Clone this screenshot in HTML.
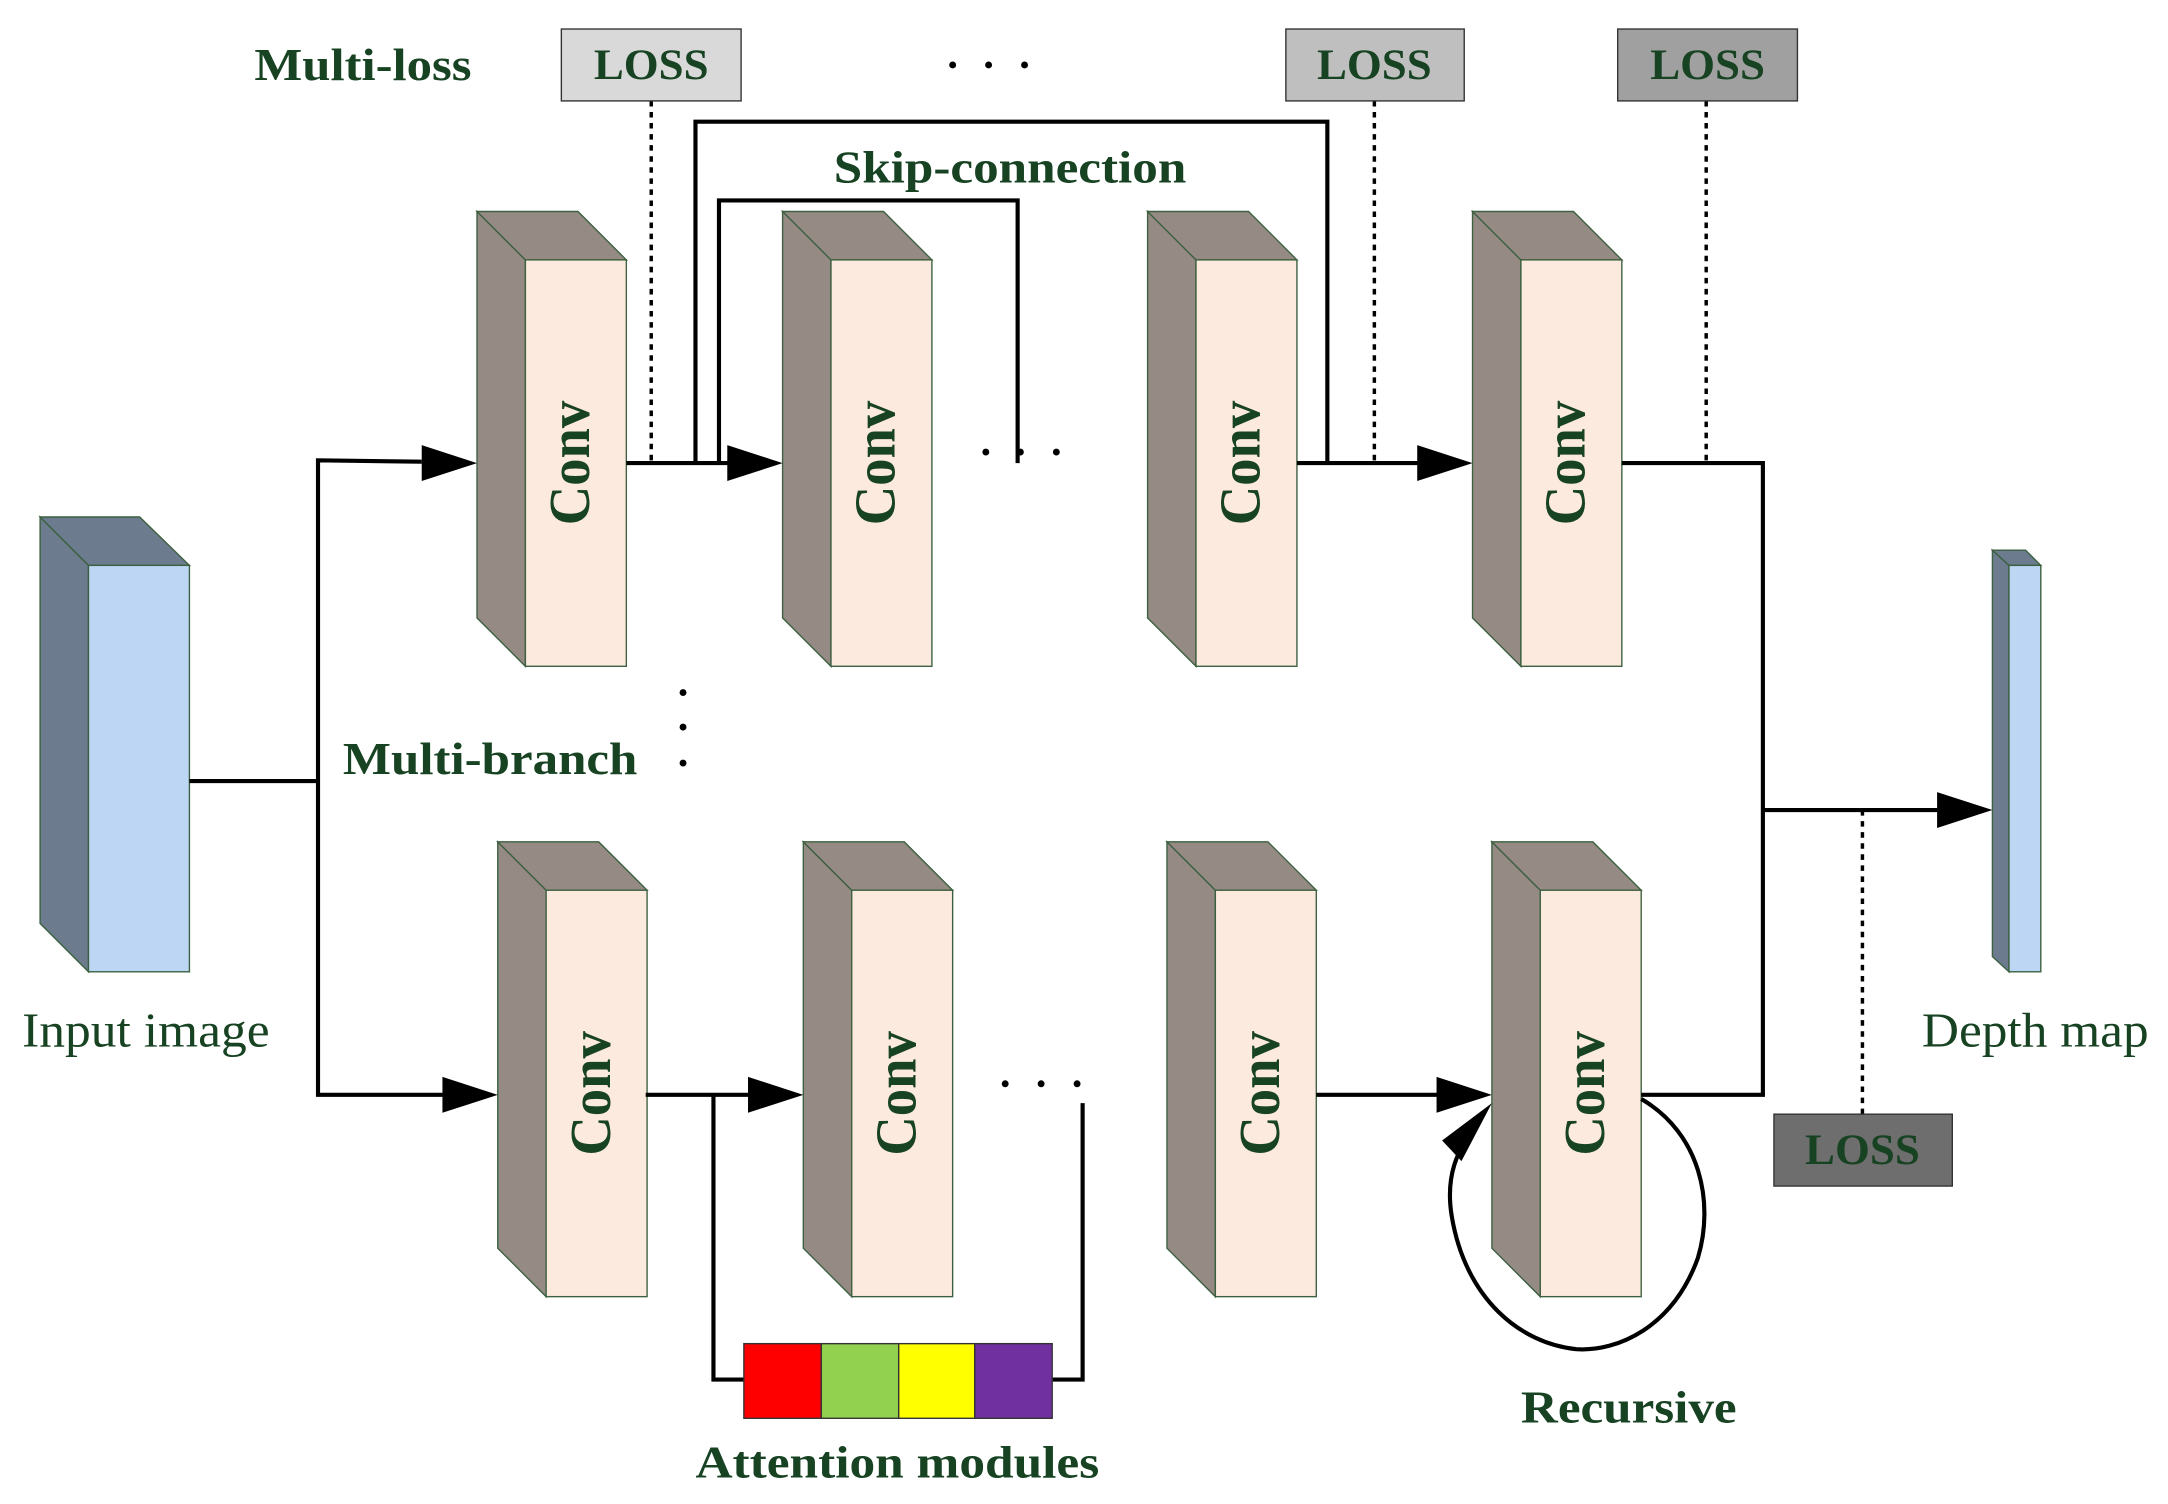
<!DOCTYPE html>
<html><head><meta charset="utf-8"><style>
html,body{margin:0;padding:0;background:#fff;}
svg{display:block;}
text{font-family:"Liberation Serif",serif;fill:#174323;}
</style></head><body>
<svg width="2168" height="1504" viewBox="0 0 1568 1088" preserveAspectRatio="none" xmlns="http://www.w3.org/2000/svg">
<defs>
<g id="blk">
<polygon points="0,0 35,35 35,329 0,294" fill="#958b84" stroke="#3d6040" stroke-width="1"/>
<polygon points="0,0 73,0 108,35 35,35" fill="#958b84" stroke="#3d6040" stroke-width="1"/>
<rect x="35" y="35" width="73" height="294" fill="#fdeade" stroke="#3d6040" stroke-width="1"/>
<text transform="translate(81,182) rotate(-90)" text-anchor="middle" font-size="42" font-weight="bold" textLength="90" lengthAdjust="spacingAndGlyphs">Conv</text>
</g>
</defs>
<polygon points="29,374 64,409 64,703 29,668" fill="#6c7b8e" stroke="#3d6040"/>
<polygon points="29,374 101,374 137,409 64,409" fill="#6c7b8e" stroke="#3d6040"/>
<rect x="64" y="409" width="73" height="294" fill="#bcd6f3" stroke="#3d6040"/>
<polygon points="1441,398 1453,409 1453,703 1441,692" fill="#6c7b8e" stroke="#3d6040"/>
<polygon points="1441,398 1465,398 1476,409 1453,409" fill="#6c7b8e" stroke="#3d6040"/>
<rect x="1453" y="409" width="23" height="294" fill="#bcd6f3" stroke="#3d6040"/>
<use href="#blk" x="345" y="153"/>
<use href="#blk" x="566" y="153"/>
<use href="#blk" x="830" y="153"/>
<use href="#blk" x="1065" y="153"/>
<use href="#blk" x="360" y="609"/>
<use href="#blk" x="581" y="609"/>
<use href="#blk" x="844" y="609"/>
<use href="#blk" x="1079" y="609"/>
<g stroke="#000" stroke-width="3" fill="none">
<polyline points="137,565 230,565"/>
<polyline points="305,334 230,333 230,792 320,792"/>
<line x1="453" y1="335" x2="528" y2="335"/>
<line x1="938" y1="335" x2="1027" y2="335"/>
<polyline points="1173,335 1275,335 1275,792 1187,792"/>
<line x1="1275" y1="586" x2="1403" y2="586"/>
<line x1="467" y1="792" x2="542" y2="792"/>
<line x1="952" y1="792" x2="1041" y2="792"/>
<polyline points="503,335 503,88 960,88 960,335"/>
<polyline points="520,335 520,145 736,145 736,335"/>
<polyline points="516,792 516,998 538,998"/>
<polyline points="761,998 783,998 783,798"/>
<path d="M1187,795 C1230,820 1240,870 1228,910 C1210,960 1170,978 1140,976 C1100,972 1060,940 1050,880 C1045,850 1055,830 1065,820"/>
</g>
<g fill="#000">
<polygon points="345,335 305,322 305,348"/>
<polygon points="566,335 526,322 526,348"/>
<polygon points="1065,335 1025,322 1025,348"/>
<polygon points="360,792 320,779 320,805"/>
<polygon points="581,792 541,779 541,805"/>
<polygon points="1079,792 1039,779 1039,805"/>
<polygon points="1441,586 1401,573 1401,599"/>
<polygon points="1079,798 1043,825 1057,840"/>
</g>
<g stroke="#000" stroke-width="2.5" stroke-dasharray="4,4">
<line x1="471" y1="73" x2="471" y2="335"/>
<line x1="994" y1="73" x2="994" y2="335"/>
<line x1="1234" y1="73" x2="1234" y2="335"/>
<line x1="1347" y1="586" x2="1347" y2="806"/>
</g>
<g stroke="#333" stroke-width="1">
<rect x="406" y="21" width="130" height="52" fill="#d9d9d9"/>
<rect x="930" y="21" width="129" height="52" fill="#bfbfbf"/>
<rect x="1170" y="21" width="130" height="52" fill="#a0a0a0"/>
<rect x="1283" y="806" width="129" height="52" fill="#6e6e6e"/>
</g>
<g font-size="31" font-weight="bold" text-anchor="middle">
<text x="471" y="57" textLength="83" lengthAdjust="spacingAndGlyphs">LOSS</text>
<text x="994" y="57" textLength="83" lengthAdjust="spacingAndGlyphs">LOSS</text>
<text x="1235" y="57" textLength="83" lengthAdjust="spacingAndGlyphs">LOSS</text>
<text x="1347" y="842" textLength="83" lengthAdjust="spacingAndGlyphs">LOSS</text>
</g>
<rect x="538" y="972" width="56" height="54" fill="#ff0000" stroke="#333"/>
<rect x="594" y="972" width="56" height="54" fill="#92d050" stroke="#333"/>
<rect x="650" y="972" width="55" height="54" fill="#ffff00" stroke="#333"/>
<rect x="705" y="972" width="56" height="54" fill="#7030a0" stroke="#333"/>
<g fill="#000">
<circle cx="689" cy="47" r="2.5"/><circle cx="715" cy="47" r="2.5"/><circle cx="741" cy="47" r="2.5"/>
<circle cx="713" cy="327" r="2.5"/><circle cx="738" cy="327" r="2.5"/><circle cx="764" cy="327" r="2.5"/>
<circle cx="727" cy="784" r="2.5"/><circle cx="753" cy="784" r="2.5"/><circle cx="779" cy="784" r="2.5"/>
<circle cx="494" cy="501" r="2.5"/><circle cx="494" cy="526" r="2.5"/><circle cx="494" cy="552" r="2.5"/>
</g>
<g font-size="33" font-weight="bold">
<text x="184" y="58" textLength="157" lengthAdjust="spacingAndGlyphs">Multi-loss</text>
<text x="603" y="132" textLength="255" lengthAdjust="spacingAndGlyphs">Skip-connection</text>
<text x="248" y="560" textLength="213" lengthAdjust="spacingAndGlyphs">Multi-branch</text>
<text x="1100" y="1029" textLength="156" lengthAdjust="spacingAndGlyphs">Recursive</text>
<text x="503" y="1069" textLength="292" lengthAdjust="spacingAndGlyphs">Attention modules</text>
</g>
<g font-size="35">
<text x="16" y="757" textLength="179" lengthAdjust="spacingAndGlyphs">Input image</text>
<text x="1390" y="757" textLength="164" lengthAdjust="spacingAndGlyphs">Depth map</text>
</g>
</svg>
</body></html>
